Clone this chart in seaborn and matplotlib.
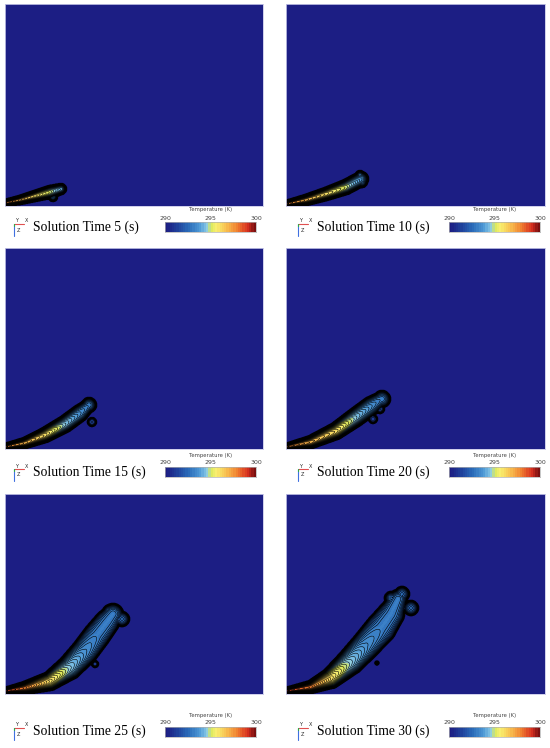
import numpy as np
import matplotlib
matplotlib.use("Agg")
import matplotlib.pyplot as plt
import seaborn as sns
from matplotlib.colors import LinearSegmentedColormap
from matplotlib.lines import Line2D

# time stamps of the six snapshots
times = [5, 10, 15, 20, 25, 30]

# plume centreline points (px from bottom-left of panel), half widths, excess temperature (K)
spine_pts = [
    [(0, 3), (15, 6), (30, 10), (45, 14), (56, 17)],
    [(0, 2), (20, 6), (40, 12), (60, 19), (75, 27)],
    [(0, 2), (20, 6), (40, 14), (60, 25), (75, 36), (84, 44)],
    [(0, 2), (25, 7), (50, 18), (70, 32), (85, 43), (95, 50)],
    [(0, 3), (20, 6), (45, 13), (65, 27), (80, 43), (92, 59), (102, 72), (108, 80)],
    [(0, 3), (25, 7), (45, 16), (65, 33), (80, 49), (95, 66), (105, 80), (112, 95)],
]
spine_w = [
    [3, 4, 5, 6, 5],
    [3, 5, 6, 7, 7],
    [3, 5, 7, 8, 8, 6],
    [3, 6, 8, 9, 9, 7],
    [3, 6, 9, 12, 13, 13, 12, 10],
    [3, 6, 10, 13, 14, 15, 13, 9],
]
spine_amp = [
    [8, 7, 6, 5, 4],
    [8, 7, 6, 5, 3.5],
    [8, 7, 6, 4.5, 3.5, 3],
    [8, 7, 6, 4.5, 3.5, 3],
    [9, 8, 6, 4.5, 3.5, 3, 3, 3],
    [9, 8, 6, 4.5, 3.5, 3, 3, 3],
]
# extra lobes / detached blobs: (x, y, radius, excess T)
blobs = [
    [(48, 9, 4, 2.5)],
    [(74, 31, 4, 3), (76, 24, 5, 3)],
    [(84, 44, 7, 3), (87, 27, 4, 1.3)],
    [(96, 50, 8, 3), (94, 40, 4, 1.5), (87, 30, 4, 1.2)],
    [(117, 75, 7, 2.5), (105, 82, 7, 2.5), (90, 30, 3, 1.2)],
    [(125, 86, 7, 2.5), (116, 100, 7, 2.5), (105, 96, 6, 2.5), (91, 31, 1.5, 0.8)],
]

t_ticks = [290, 295, 300]
cmap_colors = ["#1c1c82", "#1f3f9a", "#2a6ab8", "#4f9ad6", "#8ccbe8", "#d8e85a",
               "#f8f070", "#f8c050", "#f08030", "#d83020", "#7a1010"]
cmap_pos = [0, 0.12, 0.25, 0.38, 0.46, 0.5, 0.56, 0.68, 0.8, 0.92, 1]

W, H = 550, 748
panel_cols = [(5, 263), (286, 545)]
panel_rows = [(4, 206), (248, 449), (494, 694)]
label_y = [227, 472, 731]
cbar_top = [222, 467, 727]

sns.set_style("white")
cmap = LinearSegmentedColormap.from_list("tec", list(zip(cmap_pos, cmap_colors)))


def rect(l, t, r, b):
    return [l / W, 1 - b / H, (r - l) / W, (b - t) / H]


def profile(u):
    return np.clip(1 - u ** 2, 0, None) ** 0.5


def plume_field(X, Y, pts, wid, amp, extra):
    pts = np.asarray(pts, float)
    best = np.full(X.shape, np.inf)
    A = np.zeros_like(X)
    for i in range(len(pts) - 1):
        p0, p1 = pts[i], pts[i + 1]
        d = p1 - p0
        t = np.clip(((X - p0[0]) * d[0] + (Y - p0[1]) * d[1]) / (d @ d), 0, 1)
        dist = np.hypot(X - (p0[0] + t * d[0]), Y - (p0[1] + t * d[1]))
        w = wid[i] + t * (wid[i + 1] - wid[i])
        a = amp[i] + t * (amp[i + 1] - amp[i])
        u = dist / w
        m = u < best
        best = np.where(m, u, best)
        A = np.where(m, a, A)
    F = A * profile(best)
    for bx, by, br, ba in extra:
        F = np.maximum(F, ba * profile(np.hypot(X - bx, Y - by) / br))
    return 290 + F


fig = plt.figure(figsize=(W / 100, H / 100), dpi=100)
plt.rcParams["font.family"] = ["Liberation Serif", "DejaVu Serif"]

for k, tval in enumerate(times):
    r, c = divmod(k, 2)
    l, rr = panel_cols[c]
    t, b = panel_rows[r]
    ax = fig.add_axes(rect(l, t, rr, b))
    pw, ph = rr - l, b - t
    xs = np.linspace(0, pw, pw * 2)
    ys = np.linspace(0, ph, ph * 2)
    X, Y = np.meshgrid(xs, ys)
    T = plume_field(X, Y, spine_pts[k], spine_w[k], spine_amp[k], blobs[k])
    ax.contourf(X, Y, T, levels=np.linspace(289.99, 300.01, 41), cmap=cmap, vmin=290, vmax=300)
    ax.contour(X, Y, T, levels=np.arange(290.25, 300, 0.2), colors="black", linewidths=0.4)
    ax.contour(X, Y, T, levels=[290.08], colors="black", linewidths=1.6)
    ax.set_xlim(0, pw)
    ax.set_ylim(0, ph)
    ax.set_xticks([])
    ax.set_yticks([])
    for s in ax.spines.values():
        s.set_color("#c8c8e8")
        s.set_linewidth(0.6)

    dx = 0 if c == 0 else 284
    cy = label_y[r]
    fig.text((33 + dx) / W, 1 - cy / H, f"Solution Time {tval} (s)", fontsize=9.8,
             va="center", ha="left", color="black")

    # axis triad
    ox, oy = 14 + dx, cy - 3
    fig.add_artist(Line2D([ox / W, (ox + 10) / W], [1 - oy / H, 1 - oy / H], color="#e05050", lw=0.8))
    fig.add_artist(Line2D([ox / W, ox / W], [1 - oy / H, 1 - (oy + 12) / H], color="#4070e0", lw=0.8))
    fig.add_artist(Line2D([ox / W, ox / W], [1 - oy / H, 1 - (oy + 2) / H], color="#30b040", lw=0.8))
    fig.text((ox + 3) / W, 1 - (oy - 3) / H, "Y", fontsize=3.5, family="DejaVu Sans", ha="center", va="center")
    fig.text((ox + 13) / W, 1 - (oy - 3) / H, "X", fontsize=3.5, family="DejaVu Sans", ha="center", va="center")
    fig.text((ox + 4) / W, 1 - (oy + 6) / H, "Z", fontsize=3.5, family="DejaVu Sans", ha="center", va="center")

    # colour bar
    cl, cr = 165 + dx, 256 + dx
    ct = cbar_top[r]
    cax = fig.add_axes(rect(cl, ct, cr, ct + 10))
    sns.heatmap(np.linspace(290, 300, 40)[None, :], ax=cax, cmap=cmap, vmin=290, vmax=300,
                cbar=False, xticklabels=False, yticklabels=False)
    for s in cax.spines.values():
        s.set_visible(True)
        s.set_color("#b0b0b0")
        s.set_linewidth(0.5)
    for j, tv in enumerate(t_ticks):
        fig.text((cl + j * (cr - cl) / 2) / W, 1 - (ct - 4) / H, str(tv), fontsize=4.5,
                 family="DejaVu Sans", color="#444444", ha="center", va="center")
    fig.text(((cl + cr) / 2) / W, 1 - (ct - 12) / H, "Temperature (K)", fontsize=3.8,
             family="DejaVu Sans", color="#444444", ha="center", va="center")

fig.savefig("out.png", dpi=100)
